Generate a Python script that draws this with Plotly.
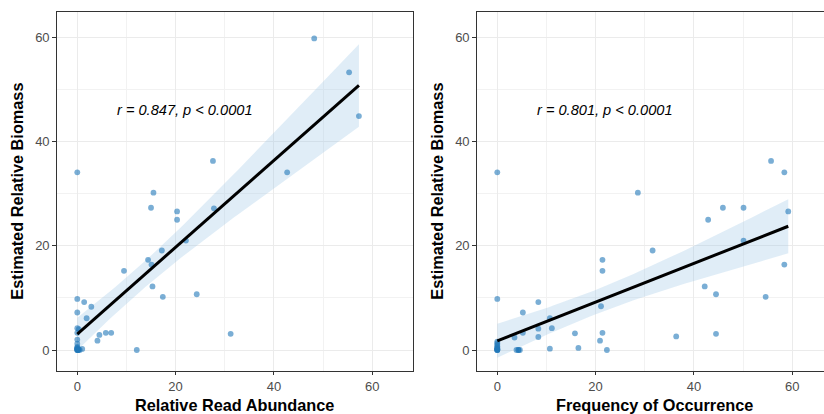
import math
import numpy as np
import plotly.graph_objects as go

# Relative read abundance (%) vs estimated relative biomass (%)
rra_x = [48.2, 55.3, 57.3, 0, 27.6, 42.7, 15.5, 15.0, 20.3, 20.3, 27.8, 22.1, 17.2,
         14.4, 15.1, 9.5, 15.3, 17.4, 24.3, 0, 1.4, 2.85, 0, 1.9, 0, 0.3, 0, 5.8,
         6.9, 4.5, 4.1, 31.2, 12.1, 0, 0, 0, 0, 0.2, 1.0,
         0, 0, 0, 0, 0, 0.1, 0.3, 0.5]
rra_y = [59.8, 53.3, 44.9, 34.1, 36.3, 34.1, 30.2, 27.3, 26.6, 25.0, 27.2, 21.0, 19.1,
         17.3, 16.4, 15.2, 12.2, 10.2, 10.7, 9.8, 9.2, 8.3, 7.2, 6.1, 4.2, 4.0, 3.3, 3.3,
         3.3, 2.9, 1.8, 3.1, 0, 2.0, 1.2, 0.6, 0.2, 0, 0.2,
         0, 0, 0.1, 0.3, 0.4, 0, 0.1, 0]

# Frequency of occurrence (%) vs estimated relative biomass (%)
foo_x = [0, 28.6, 55.7, 58.4, 45.9, 50.1, 59.2, 42.9, 50.1, 31.6, 21.4, 21.4, 58.4,
         42.2, 44.5, 54.6, 0, 8.35, 5.2, 21.1, 10.7, 11.1, 8.35, 5.2, 3.5, 8.35, 15.8,
         21.4, 20.9, 36.4, 44.5, 10.7, 16.5, 22.3, 3.9, 4.3, 0, 0, 0, 0,
         0, 0, 0, 0, 0, 0, 0, 4.3, 4.6]
foo_y = [34.1, 30.2, 36.3, 34.1, 27.3, 27.3, 26.6, 25.0, 21.0, 19.1, 17.3, 15.2, 16.4,
         12.2, 10.7, 10.2, 9.8, 9.2, 7.2, 8.4, 6.1, 4.2, 4.1, 3.3, 2.4, 2.5, 3.2,
         3.3, 1.8, 2.6, 3.1, 0.25, 0.4, 0, 0, 0, 1.6, 1.0, 0.3, 0,
         0, 0, 0.1, 0.2, 0.5, 0.7, 1.3, 0, 0]

stat_labels = ["r = 0.847, p < 0.0001", "r = 0.801, p < 0.0001"]
x_titles = ["Relative Read Abundance", "Frequency of Occurrence"]
y_title = "Estimated Relative Biomass"
tick_vals = [0, 20, 40, 60]

W, H = 824, 414
FONT = "Liberation Sans, Arial, sans-serif"
PT_COLOR = "rgba(33,120,185,0.6)"
BAND_COLOR = "rgba(160,200,230,0.32)"


def t_quantile_975(df):
    # Normal quantile plus Cornish-Fisher expansion for Student t
    z = 1.959963985
    g1 = (z ** 3 + z) / 4
    g2 = (5 * z ** 5 + 16 * z ** 3 + 3 * z) / 96
    g3 = (3 * z ** 7 + 19 * z ** 5 + 17 * z ** 3 - 15 * z) / 384
    return z + g1 / df + g2 / df ** 2 + g3 / df ** 3


def lm_fit(x, y, n_out=80):
    x = np.asarray(x, float)
    y = np.asarray(y, float)
    n = len(x)
    b, a = np.polyfit(x, y, 1)
    resid = y - (a + b * x)
    s = math.sqrt(np.sum(resid ** 2) / (n - 2))
    xm = x.mean()
    sxx = np.sum((x - xm) ** 2)
    xs = np.linspace(x.min(), x.max(), n_out)
    fit = a + b * xs
    se = s * np.sqrt(1.0 / n + (xs - xm) ** 2 / sxx)
    t = t_quantile_975(n - 2)
    return xs, fit, fit - t * se, fit + t * se


# panel geometry (pixels)
top_px, bot_px = 11.7, 370.7
ydom = [1 - bot_px / H, 1 - top_px / H]
left_dom = [56.7 / W, 413.0 / W]
right_dom = [476.7 / W, 1.0]
unit_px = 4.915
x_lo = -4.19
x_hi_left = 68.3
x_hi_right = x_lo + (W - right_dom[0] * W) / unit_px
y_range = [-3.97, 64.93]

fig = go.Figure()

datasets = [(rra_x, rra_y), (foo_x, foo_y)]
for i, (xv, yv) in enumerate(datasets):
    xa = "x" if i == 0 else "x2"
    ya = "y" if i == 0 else "y2"
    xs, fit, lo, hi = lm_fit(xv, yv)
    fig.add_trace(go.Scatter(
        x=np.concatenate([xs, xs[::-1]]), y=np.concatenate([hi, lo[::-1]]),
        fill="toself", fillcolor=BAND_COLOR, line=dict(width=0),
        mode="lines", hoverinfo="skip", showlegend=False, xaxis=xa, yaxis=ya))
    fig.add_trace(go.Scatter(
        x=xv, y=yv, mode="markers",
        marker=dict(size=5.8, color=PT_COLOR, line=dict(width=0)),
        showlegend=False, xaxis=xa, yaxis=ya))
    fig.add_trace(go.Scatter(
        x=xs, y=fit, mode="lines", line=dict(color="black", width=3),
        showlegend=False, xaxis=xa, yaxis=ya))
    fig.add_annotation(
        x=22, y=46, xref=xa, yref=ya, text="<i>%s</i>" % stat_labels[i],
        showarrow=False, xanchor="center", yanchor="middle",
        font=dict(family=FONT, size=14.6, color="black"))

axis_common = dict(
    tickmode="array", tickvals=tick_vals, ticktext=[str(v) for v in tick_vals],
    showgrid=True, gridcolor="#ebebeb", gridwidth=1.1,
    minor=dict(tickmode="array", tickvals=[10, 30, 50, 70], showgrid=True,
               gridcolor="#f2f2f2", gridwidth=0.6, ticks=""),
    zeroline=False, showline=True, linecolor="#333333", linewidth=1,
    ticks="outside", ticklen=3.5, tickwidth=1, tickcolor="#333333",
    tickfont=dict(family=FONT, size=13, color="#4d4d4d"),
)

fig.update_layout(
    width=W, height=H, margin=dict(l=0, r=0, t=0, b=0),
    paper_bgcolor="white", plot_bgcolor="white",
    xaxis=dict(domain=left_dom, range=[x_lo, x_hi_left], mirror=True,
               anchor="y", **axis_common),
    yaxis=dict(domain=ydom, range=y_range, mirror=True, anchor="x",
               **axis_common),
    xaxis2=dict(domain=right_dom, range=[x_lo, x_hi_right], mirror=True,
                anchor="y2", **axis_common),
    yaxis2=dict(domain=ydom, range=y_range, mirror=False, anchor="x2",
                **axis_common),
)

# axis titles
for i, dom in enumerate([left_dom, [right_dom[0], (476.7 + 356.3) / W]]):
    fig.add_annotation(
        x=(dom[0] + dom[1]) / 2, y=1 - 404.5 / H, xref="paper", yref="paper",
        text="<b>%s</b>" % x_titles[i], showarrow=False,
        xanchor="center", yanchor="middle",
        font=dict(family=FONT, size=16.3, color="black"))
for xp in [17.5, 437.5]:
    fig.add_annotation(
        x=xp / W, y=(ydom[0] + ydom[1]) / 2, xref="paper", yref="paper",
        text="<b>%s</b>" % y_title, showarrow=False, textangle=-90,
        xanchor="center", yanchor="middle",
        font=dict(family=FONT, size=16.3, color="black"))

fig.write_html("out.html")
